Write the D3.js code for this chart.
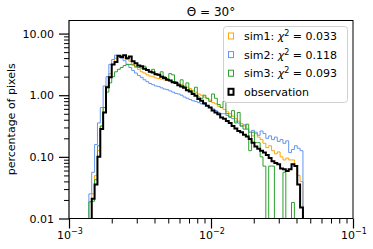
<!DOCTYPE html>
<html>
<head>
<meta charset="utf-8">
<script src="https://d3js.org/d3.v7.min.js"></script>
<style>
body { margin: 0; background: #fff; }
svg text { font-family: "DejaVu Sans", sans-serif; fill: #000; }
</style>
</head>
<body>
<svg width="373" height="249"></svg>
<script>
// bin edges (log10 of the x value) shared by all histograms
var binLo = -2.86, binHi = -1.3525;

// log10 of percentage of pixels per bin, null = empty bin
var obsLog = [null,
  -1.68, -1.45, -1.0, -0.55, -0.28, 0.13, 0.29, 0.5, 0.54, 0.64,
  0.62, 0.65, 0.6, 0.63, 0.55, 0.52, 0.48, 0.47, 0.43, 0.41,
  0.38, 0.37, 0.34, 0.33, 0.3, 0.28, 0.25, 0.24, 0.21, 0.2,
  0.16, 0.14, 0.12, 0.08, 0.06, 0.02, -0.01, -0.06, -0.09, -0.13,
  -0.17, -0.2, -0.25, -0.28, -0.31, -0.36, -0.38, -0.42, -0.45, -0.5,
  -0.54, -0.58, -0.6, -0.64, -0.67, -0.71, -0.77, -0.83, -0.87, -0.9,
  -0.93, -0.97, -1.02, -1.07, -1.1, -1.12, -1.19, -1.2, -1.23, -1.2,
  -1.12, -1.15, -1.45, -1.82];

var sim1Log = [null,
  -1.6, -1.3, -0.9, -0.5, -0.2, 0.15, 0.35, 0.5, 0.6, 0.62,
  0.64, 0.6, 0.58, 0.55, 0.5, 0.45, 0.42, 0.38, 0.36, 0.33,
  0.31, 0.3, 0.28, 0.27, 0.26, 0.25, 0.24, 0.23, 0.22, 0.2,
  0.19, 0.17, 0.15, 0.13, 0.11, 0.08, 0.05, 0.02, 0.0, -0.03,
  -0.05, -0.08, -0.12, -0.14, -0.18, -0.2, -0.23, -0.27, -0.3, -0.34,
  -0.38, -0.42, -0.46, -0.5, -0.55, -0.6, -0.66, -0.62, -0.68, -0.72,
  -0.78, -0.85, -0.82, -0.9, -0.95, -0.92, -1.0, -1.05, -1.02, -1.05,
  -1.05, -1.15, -1.3, -1.4];

var sim2Log = [-1.6,
  -1.25, -0.8, -0.45, -0.2, 0.15, 0.3, 0.5, 0.58, 0.65, 0.63,
  0.6, 0.56, 0.5, 0.45, 0.4, 0.36, 0.32, 0.29, 0.25, 0.22,
  0.19, 0.17, 0.15, 0.14, 0.12, 0.1, 0.09, 0.07, 0.05, 0.03,
  0.02, 0.0, -0.03, -0.05, -0.07, -0.09, -0.1, -0.12, -0.14, -0.15,
  -0.17, -0.2, -0.22, -0.25, -0.28, -0.3, -0.3, -0.33, -0.36, -0.38,
  -0.42, -0.45, -0.5, -0.48, -0.55, -0.6, -0.57, -0.6, -0.65, -0.58,
  -0.62, -0.7, -0.66, -0.72, -0.68, -0.75, -0.72, -0.78, -0.74, -0.93,
  -0.88, -0.82, -0.86, -0.9];

var sim3Log = [-1.73,
  -1.72, -1.37, -0.82, -0.5, -0.2, 0.05, 0.2, 0.3, 0.38, 0.42,
  0.45, 0.48, 0.5, 0.5, 0.49, 0.47, 0.45, 0.44, 0.47, 0.4,
  0.38, 0.42, 0.35, 0.32, 0.38, 0.3, 0.27, 0.35, 0.33, 0.22,
  0.18, 0.25, 0.14, 0.2, 0.08, 0.05, 0.13, -0.03, -0.05, 0.0,
  -0.05, -0.1, 0.02, -0.05, -0.15, -0.2, -0.1, -0.3, -0.35, -0.25,
  -0.45, -0.28, -0.5, -0.55, -0.47, -0.9, -0.6, -0.77, -0.77, -1.0,
  -1.15, null, -1.15, -1.15, null, null, null, -1.25, null, null,
  -1.74, null, null, null];

var seriesNames = ["sim1", "sim2", "sim3", "observation"];
var chiValues = ["0.033", "0.118", "0.093", null];
var seriesColors = ["#ffa500", "#6495ed", "#2ca02c", "#000000"];
var yTicks = [0.01, 0.1, 1, 10];
var xTickExp = [-3, -2, -1];

var svg = d3.select("svg");
var plotL = 69, plotR = 353, plotT = 20, plotB = 218.5;

var x = d3.scaleLog().domain([1e-3, 1e-1]).range([plotL, plotR]);
var y = d3.scaleLog().domain([0.01, 16.6]).range([plotB, plotT]);

svg.append("clipPath").attr("id", "plotclip")
  .append("rect").attr("x", plotL).attr("y", plotT)
  .attr("width", plotR - plotL).attr("height", plotB - plotT);

function stepPath(logs) {
  var n = logs.length;
  var edges = d3.range(n + 1).map(function(i) {
    return Math.pow(10, binLo + (binHi - binLo) * i / n);
  });
  var yv = function(v) { return v == null ? plotB + 5 : y(Math.pow(10, v)); };
  var pts = [[x(edges[0]), plotB + 5]];
  logs.forEach(function(v, i) {
    pts.push([x(edges[i]), yv(v)]);
    pts.push([x(edges[i + 1]), yv(v)]);
  });
  pts.push([x(edges[n]), plotB + 5]);
  return d3.line()(pts);
}

var curves = svg.append("g").attr("clip-path", "url(#plotclip)");
[sim1Log, sim2Log, sim3Log, obsLog].forEach(function(s, k) {
  curves.append("path")
    .attr("d", stepPath(s))
    .attr("fill", "none")
    .attr("stroke", seriesColors[k])
    .attr("stroke-width", k == 3 ? 2 : 1)
    .attr("stroke-linejoin", "miter");
});

// y axis
var yMinor = [];
[0.01, 0.1, 1, 10].forEach(function(d) {
  for (var m = 2; m <= 9; m++) if (d * m < 16.6) yMinor.push(d * m);
});
svg.append("g").attr("transform", "translate(" + plotL + ",0)")
  .call(d3.axisLeft(y).tickValues(yMinor).tickSize(5).tickFormat(""))
  .call(function(g) { g.select(".domain").remove(); });
var yAxis = svg.append("g").attr("transform", "translate(" + plotL + ",0)")
  .call(d3.axisLeft(y).tickValues(yTicks).tickSize(10).tickPadding(5).tickFormat(d3.format(".2f")));
yAxis.select(".domain").remove();
yAxis.selectAll("text").style("font-size", "11px").style("font-family", "DejaVu Sans");
yAxis.selectAll("line").attr("stroke-width", 1.2);

// x axis
var xMinor = [];
[1e-3, 1e-2].forEach(function(d) {
  for (var m = 2; m <= 9; m++) xMinor.push(d * m);
});
svg.append("g").attr("transform", "translate(0," + plotB + ")")
  .call(d3.axisBottom(x).tickValues(xMinor).tickSize(5).tickFormat(""))
  .call(function(g) { g.select(".domain").remove(); });
var xAxis = svg.append("g").attr("transform", "translate(0," + plotB + ")")
  .call(d3.axisBottom(x).tickValues(xTickExp.map(function(e) { return Math.pow(10, e); }))
    .tickSize(10).tickFormat(""));
xAxis.select(".domain").remove();
xAxis.selectAll("line").attr("stroke-width", 1.2);

xTickExp.forEach(function(e) {
  var t = svg.append("text")
    .attr("x", x(Math.pow(10, e)) + 1)
    .attr("y", 239)
    .attr("text-anchor", "middle")
    .style("font-size", "11px");
  t.append("tspan").text("10");
  t.append("tspan").attr("dy", -5).style("font-size", "8px").text("\u2212" + Math.abs(e));
});

// spines
svg.append("line").attr("x1", plotL).attr("x2", plotR).attr("y1", plotT + 0.5).attr("y2", plotT + 0.5)
  .attr("stroke", "#000").attr("stroke-width", 1);
svg.append("line").attr("x1", plotR).attr("x2", plotR).attr("y1", plotT).attr("y2", plotB)
  .attr("stroke", "#000").attr("stroke-width", 1);
svg.append("line").attr("x1", plotL).attr("x2", plotL).attr("y1", plotT).attr("y2", plotB + 0.6)
  .attr("stroke", "#000").attr("stroke-width", 1.2);
svg.append("line").attr("x1", plotL).attr("x2", plotR).attr("y1", plotB).attr("y2", plotB)
  .attr("stroke", "#000").attr("stroke-width", 1.2);

// title and y label
svg.append("text").attr("x", (plotL + plotR) / 2).attr("y", 15.5)
  .attr("text-anchor", "middle").style("font-size", "12px")
  .text("\u0398 = 30\u00b0");

svg.append("text")
  .attr("transform", "translate(15," + ((plotT + plotB) / 2) + ") rotate(-90)")
  .attr("text-anchor", "middle")
  .style("font-size", "11px")
  .text("percentage of pixels");

// legend
var lg = svg.append("g");
lg.append("rect").attr("x", 223.5).attr("y", 26.5).attr("width", 124).attr("height", 76)
  .attr("rx", 3).attr("fill", "#fff").attr("fill-opacity", 0.8)
  .attr("stroke", "#d0d0d0").attr("stroke-width", 1);
seriesNames.forEach(function(name, k) {
  var cy = 36 + k * 18.6;
  lg.append("rect").attr("x", 228.5).attr("y", cy - 3).attr("width", 5).attr("height", 6)
    .attr("fill", "none").attr("stroke", seriesColors[k]).attr("stroke-width", k == 3 ? 2 : 1);
  var t = lg.append("text").attr("x", 244).attr("y", cy + 4).style("font-size", "11px");
  if (chiValues[k] == null) {
    t.text(name);
  } else {
    t.append("tspan").text(name + ": ");
    t.append("tspan").style("font-style", "italic").text("\u03c7");
    t.append("tspan").attr("dy", -4).style("font-size", "8px").text("2");
    t.append("tspan").attr("dy", 4).text(" = " + chiValues[k]);
  }
});
</script>
</body>
</html>
